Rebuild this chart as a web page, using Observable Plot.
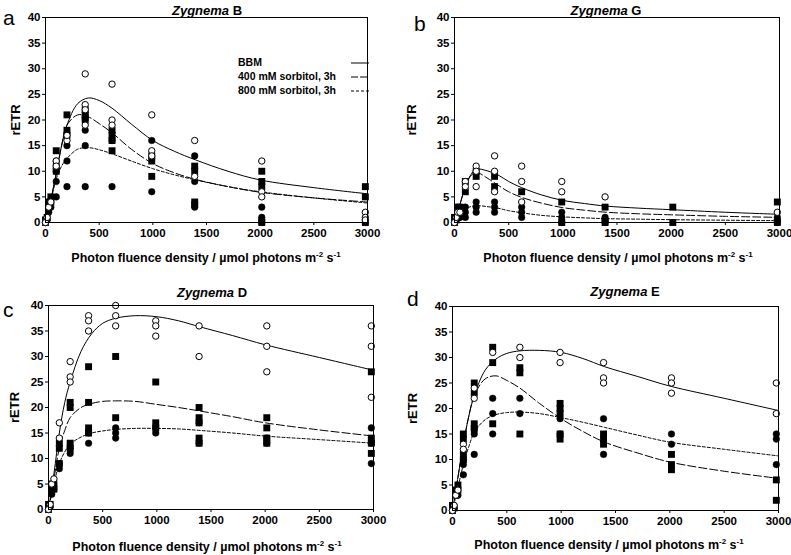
<!DOCTYPE html>
<html><head><meta charset="utf-8">
<script src="https://cdn.jsdelivr.net/npm/d3@7"></script>
<script src="https://cdn.jsdelivr.net/npm/@observablehq/plot@0.6"></script>
<style>
body{margin:0;background:#fff;}
#wrap{position:relative;width:791px;height:555px;font-family:"Liberation Sans",Arial,sans-serif;color:#000;overflow:hidden;}
.lbl{position:absolute;font-size:21px;line-height:1;}
.ttl{position:absolute;font-size:13px;font-weight:bold;transform:translate(-50%,-50%);white-space:nowrap;line-height:1;}
.xt{position:absolute;font-size:12.5px;font-weight:bold;transform:translate(-50%,-50%);white-space:nowrap;line-height:1;}
.xt sup{font-size:8px;vertical-align:5px;line-height:0;}
.leg{position:absolute;font-size:10.5px;font-weight:bold;line-height:1;white-space:nowrap;}
</style></head>
<body><div id="wrap"></div>
<script>
// ---------- data ----------
const xLevels = [0, 15, 30, 50, 100, 200, 370, 620, 990, 1390, 2015, 2980];
const curveX  = [0, 50, 100, 150, 200, 300, 400, 500, 620, 800, 1000, 1200, 1400, 1700, 2000, 2500, 3000];
const xTicks = [0, 500, 1000, 1500, 2000, 2500, 3000];
const yTicks = [0, 5, 10, 15, 20, 25, 30, 35, 40];
const seriesNames = ["BBM", "400 mM sorbitol, 3h", "800 mM sorbitol, 3h"];
const panelLetters = ["a", "b", "c", "d"];
const panelStrains = ["B", "G", "D", "E"];

// Zygnema B (a)
const ptsB_BBM = [[0,0],[1],[3],[4],[12,11],[16,17],[29,23,22,19],[27,20,19],[21,14,13],[16,9],[12,6,5],[2,1,0.5]];
const ptsB_400 = [[0,0.5],[1],[3,4],[5,4],[14,11,10],[21,18,17],[22,21,20.5,20],[18,17,16,14],[13,12,9],[11,10,4,3.5],[10,8,7,0],[7,5,0]];
const ptsB_800 = [[0],[0.5],[2],[3],[12,10,8,5],[15,12,7],[18,15,7],[16,7],[16,6],[13,8,3],[3,1,0.5,0],[0]];
const fitB_BBM = [0,4.5,9.5,15,19,23.2,24.3,23.8,22.3,19.2,16,13.9,12.2,10,8.3,6.8,5.6];
const fitB_400 = [0,4.5,9.5,15,19,21,20.6,19.3,17.5,14.3,11.5,9.7,8.4,7,5.9,4.8,4];
const fitB_800 = [0,4.2,8.5,11,12.5,14.3,14.6,14.2,13.4,12,10.5,9.3,8.3,7,6,4.8,3.8];

// Zygnema G (b)
const ptsG_BBM = [[0],[1],[2],[2],[8,7],[11,10,7],[13,10,6],[11,8,4],[8,6],[5],[],[2]];
const ptsG_400 = [[0,1],[0.5],[3,1],[3],[8,6],[10,9],[9,7],[6],[4,0],[3,0],[3,0],[4,0]];
const ptsG_800 = [[0],[0.5],[1],[1],[3,2,1],[4,3,2],[4,3,2],[3,2,1],[2,1,0],[1,0.5,0],[],[1,0.5,0]];
const fitG_BBM = [0,3.5,7,9.3,10.4,10.1,9.3,8,6.8,5.4,4.3,3.7,3.2,2.8,2.5,2,1.6];
const fitG_400 = [0,3.5,7,9.1,9.8,8.7,7.3,6,4.9,3.8,2.9,2.4,2,1.7,1.5,1.2,1];
const fitG_800 = [0,1.5,2.6,3.1,3.3,3.1,2.8,2.3,1.9,1.4,1.1,0.9,0.75,0.65,0.55,0.45,0.35];

// Zygnema D (c)
const ptsD_BBM = [[0],[1],[5],[6],[17,14],[29,26,25],[38,37,35],[40,38,36],[37,36,34],[36,30],[36,32,27],[36,32,22]];
const ptsD_400 = [[0,1],[1],[4,5],[5,4],[13,12,9],[21,20,13,12],[28,21,16,15],[30,18],[25,17,16],[20,18,17,14,13],[18,16,14,13],[27,14,13,11]];
const ptsD_800 = [[0],[0.5],[3],[4],[9,8],[12,11],[15,13],[16,15,14],[16,15],[17,13],[14,13],[16,13,9]];
const fitD_BBM = [0,7,15,21,25,31,34.5,36.5,37.5,38,37.8,37,35.8,34.1,32.3,29.8,27.3];
const fitD_400 = [0,6,12,15.5,18,20,20.8,21.2,21.3,21.2,20.6,20,19.3,18.2,17,15.6,14.4];
const fitD_800 = [0,5,9,11.3,12.8,14.2,15,15.4,15.7,15.9,15.9,15.8,15.5,15,14.4,13.7,13];

// Zygnema E (d)
const ptsE_BBM = [[0],[1],[3],[4],[13,12],[24,22],[31],[32,30],[31,29],[29,26,25],[26,25,23],[25,19]];
const ptsE_400 = [[0,1],[0.5],[4,3],[5,4],[15,14,11,10],[25,23,17,16],[32,29,17],[28,27,15],[21,20,19,15,14],[15,14,13],[11,9,8],[6,2]];
const ptsE_800 = [[0],[0.5],[3],[3],[10,9,7],[16,15,11],[22,19,15],[22,19],[18,15],[18,11],[15,13],[15,14,9]];
const fitE_BBM = [0,6.5,13,18.5,22.5,27.5,29.7,30.8,31.3,31.4,31,29.8,28.2,26.3,24.4,22,19.6];
const fitE_400 = [0,6.5,13,18.5,22.5,25.8,26.4,25.5,24,21,18,15.5,13.4,11.3,9.5,7.7,6.3];
const fitE_800 = [0,4.5,9,12.5,15.3,17.8,18.8,19.2,19.3,19,18.2,17.3,16.3,14.8,13.4,12,10.7];

// ---------- layout ----------
const panels = [
  {pts:[ptsB_BBM,ptsB_400,ptsB_800], fit:[fitB_BBM,fitB_400,fitB_800],
   left:0, top:0, w:395, h:270, m:[17,28,48,45], yOff:35,
   title:[207,10], xt:[206,258], letter:[3,7]},
  {pts:[ptsG_BBM,ptsG_400,ptsG_800], fit:[fitG_BBM,fitG_400,fitG_800],
   left:395, top:0, w:396, h:270, m:[17,12,48,59], yOff:48,
   title:[606,10], xt:[618,258], letter:[414,13]},
  {pts:[ptsD_BBM,ptsD_400,ptsD_800], fit:[fitD_BBM,fitD_400,fitD_800],
   left:0, top:270, w:395, h:285, m:[35,22,46,48], yOff:39,
   title:[212,292], xt:[207,547], letter:[3,299]},
  {pts:[ptsE_BBM,ptsE_400,ptsE_800], fit:[fitE_BBM,fitE_400,fitE_800],
   left:395, top:270, w:396, h:285, m:[36,13,45,57], yOff:45,
   title:[625,291], xt:[609,545], letter:[407,288]}
];

const dashes = [null, "8,3", "3,2"];
const wrap = document.getElementById("wrap");

panels.forEach((p, k) => {
  const pts = [[], [], []];
  p.pts.forEach((ser, s) => ser.forEach((ys, i) => ys.forEach(y => pts[s].push({x: xLevels[i], y, series: seriesNames[s]}))));
  const fits = p.fit.map((ys, s) => ys.map((y, i) => ({x: curveX[i], y, series: seriesNames[s]})));
  const svg = Plot.plot({
    width: p.w, height: p.h,
    marginTop: p.m[0], marginRight: p.m[1], marginBottom: p.m[2], marginLeft: p.m[3],
    style: {fontFamily: "'Liberation Sans', Arial, sans-serif", fontSize: "11.5px", fontWeight: "bold", color: "black", background: "transparent", overflow: "visible"},
    x: {domain: [0, 3000], ticks: xTicks, tickFormat: d => String(d), tickSize: 3, tickPadding: 3, label: null},
    y: {domain: [0, 40], ticks: yTicks, tickFormat: d => String(d), tickSize: 3, tickPadding: 2, label: "rETR", labelAnchor: "center", labelArrow: "none", labelOffset: p.yOff},
    marks: [
      ...fits.map((f, s) => Plot.line(f, {x: "x", y: "y", curve: "catmull-rom", stroke: "black", strokeWidth: 1, strokeDasharray: dashes[s], clip: true})),
      Plot.dot(pts[2], {x: "x", y: "y", r: 3.3, fill: "black", stroke: "black", strokeWidth: 0.5}),
      Plot.dot(pts[1], {x: "x", y: "y", symbol: "square", r: 3.9, fill: "black"}),
      Plot.dot(pts[0], {x: "x", y: "y", r: 3.2, fill: "white", stroke: "black", strokeWidth: 1}),
      Plot.frame({stroke: "black", strokeWidth: 1})
    ]
  });
  svg.style.position = "absolute";
  svg.style.left = p.left + "px";
  svg.style.top = p.top + "px";
  const yl = svg.querySelector('[aria-label="y-axis label"]');
  if (yl) yl.style.fontSize = "13px";
  wrap.appendChild(svg);

  const t = document.createElement("div");
  t.className = "ttl";
  t.style.left = p.title[0] + "px"; t.style.top = p.title[1] + "px";
  t.innerHTML = "<i>Zygnema</i> " + panelStrains[k];
  wrap.appendChild(t);

  const xt = document.createElement("div");
  xt.className = "xt";
  xt.style.left = p.xt[0] + "px"; xt.style.top = p.xt[1] + "px";
  xt.innerHTML = "Photon fluence density / µmol photons m<sup>-2</sup> s<sup>-1</sup>";
  wrap.appendChild(xt);

  const l = document.createElement("div");
  l.className = "lbl";
  l.style.left = p.letter[0] + "px"; l.style.top = p.letter[1] + "px";
  l.textContent = panelLetters[k];
  wrap.appendChild(l);
});

// legend in panel a
const legY = [63, 77, 91];
seriesNames.forEach((name, s) => {
  const d = document.createElement("div");
  d.className = "leg";
  d.style.left = "238px"; d.style.top = (legY[s] - 6) + "px";
  d.textContent = name;
  wrap.appendChild(d);
  const ns = "http://www.w3.org/2000/svg";
  const sv = document.createElementNS(ns, "svg");
  sv.setAttribute("width", 18); sv.setAttribute("height", 4);
  sv.style.position = "absolute"; sv.style.left = "351px"; sv.style.top = (legY[s] - 2) + "px";
  const ln = document.createElementNS(ns, "line");
  ln.setAttribute("x1", 0); ln.setAttribute("x2", 18); ln.setAttribute("y1", 2); ln.setAttribute("y2", 2);
  ln.setAttribute("stroke", "black"); ln.setAttribute("stroke-width", 1);
  if (dashes[s]) ln.setAttribute("stroke-dasharray", s === 1 ? "7,2" : "3,2");
  sv.appendChild(ln);
  wrap.appendChild(sv);
});
</script></body></html>
